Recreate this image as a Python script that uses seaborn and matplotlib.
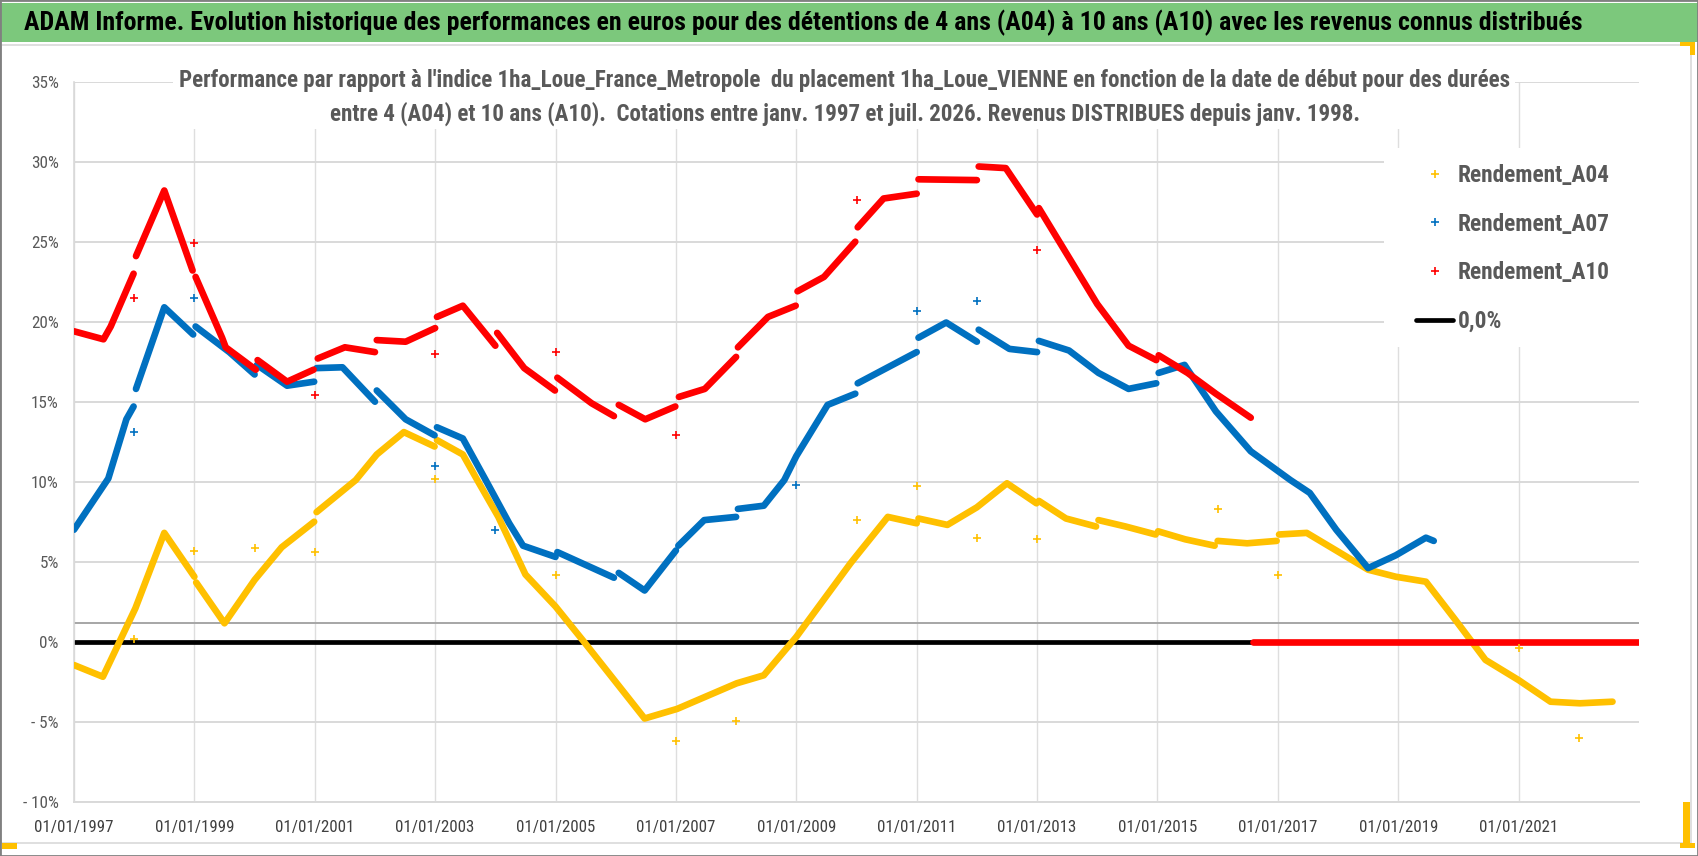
import numpy as np
import pandas as pd
import matplotlib
matplotlib.use('Agg')
import matplotlib.pyplot as plt
import seaborn as sns
from matplotlib import font_manager as fm
from matplotlib.patches import Rectangle
from matplotlib.lines import Line2D
from matplotlib.ticker import FuncFormatter

nan = np.nan

# dates de début en années décimales, rendements en %, nan = rupture de la série
A04_DATES = [1997.0, 1997.48, 1998.02, 1998.5, 1999.0, nan,
             1999.03, 1999.5, 2000.0, 2000.45, 2000.99, nan,
             2001.03, 2001.68, 2002.03, 2002.48, 2002.99, nan,
             2003.03, 2003.46, 2003.7, 2004.05, 2004.5, 2005.0, 2005.45, 2006.48, 2007.02,
             2008.01, 2008.46, 2009.0, 2009.45, 2009.9, 2010.07, 2010.52, 2011.0, nan,
             2011.03, 2011.51, 2012.0, 2012.5, 2012.99, nan,
             2013.03, 2013.48, 2013.98, nan,
             2014.02, 2014.47, 2014.97, nan,
             2015.01, 2015.46, 2015.95, nan,
             2016.0, 2016.49, 2016.98, nan,
             2017.02, 2017.48, 2017.97, 2018.5, 2018.96, 2019.46, 2019.95, 2020.45, 2021.0,
             2021.53, 2022.02, 2022.56]
A04_VALS = [-1.46, -2.19, 2.09, 6.8, 4.06, nan,
            3.7, 1.15, 3.86, 5.9, 7.5, nan,
            8.1, 10.1, 11.7, 13.1, 12.2, nan,
            12.6, 11.7, 10.1, 7.8, 4.2, 2.2, 0.1, -4.8, -4.2,
            -2.6, -2.1, 0.3, 2.6, 4.9, 5.7, 7.8, 7.4, nan,
            7.7, 7.3, 8.4, 9.9, 8.65, nan,
            8.8, 7.7, 7.2, nan,
            7.6, 7.2, 6.7, nan,
            6.9, 6.4, 6.0, nan,
            6.3, 6.15, 6.3, nan,
            6.7, 6.8, 5.7, 4.5, 4.06, 3.75, 1.36, -1.14, -2.4,
            -3.75, -3.85, -3.75]

A07_DATES = [1997.0, 1997.57, 1997.87, 1997.99, nan,
             1998.03, 1998.5, 1998.98, nan,
             1999.02, 1999.58, 2000.0, nan,
             2000.04, 2000.54, 2000.99, nan,
             2001.03, 2001.46, 2002.0, nan,
             2002.03, 2002.51, 2002.99, nan,
             2003.03, 2003.46, 2003.84, 2004.23, 2004.46, 2005.0, nan,
             2005.03, 2005.97, nan,
             2006.05, 2006.48, 2007.0, nan,
             2007.04, 2007.47, 2008.0, nan,
             2008.03, 2008.46, 2008.8, 2009.0, 2009.52, 2009.98, nan,
             2010.02, 2011.0, nan,
             2011.03, 2011.49, 2012.0, nan,
             2012.03, 2012.54, 2013.0, nan,
             2013.03, 2013.53, 2014.02, 2014.52, 2014.98, nan,
             2015.02, 2015.45, 2015.97, 2016.55, 2017.21, 2017.53, 2017.97, 2018.5,
             2018.96, 2019.46, 2019.59]
A07_VALS = [7.0, 10.2, 13.9, 14.7, nan,
            15.8, 20.9, 19.2, nan,
            19.7, 18.1, 16.7, nan,
            17.3, 16.0, 16.25, nan,
            17.1, 17.15, 15.0, nan,
            15.7, 13.9, 12.9, nan,
            13.4, 12.7, 10.1, 7.4, 6.0, 5.3, nan,
            5.6, 4.0, nan,
            4.3, 3.2, 5.7, nan,
            6.0, 7.6, 7.8, nan,
            8.3, 8.5, 10.1, 11.6, 14.8, 15.5, nan,
            16.15, 18.1, nan,
            19.0, 19.95, 18.75, nan,
            19.5, 18.3, 18.1, nan,
            18.8, 18.2, 16.8, 15.8, 16.15, nan,
            16.8, 17.3, 14.4, 11.9, 10.1, 9.3, 7.0, 4.6,
            5.4, 6.5, 6.3]

A10_DATES = [1997.0, 1997.49, 1997.61, 1997.99, nan,
             1998.03, 1998.5, 1998.97, nan,
             1999.02, 1999.46, 1999.52, 2000.02, nan,
             2000.05, 2000.54, 2000.98, nan,
             2001.05, 2001.5, 2002.0, nan,
             2002.03, 2002.51, 2003.0, nan,
             2003.03, 2003.46, 2004.0, nan,
             2004.03, 2004.48, 2004.99, nan,
             2005.03, 2005.6, 2005.97, nan,
             2006.05, 2006.49, 2006.99, nan,
             2007.05, 2007.48, 2008.0, nan,
             2008.03, 2008.53, 2008.99, nan,
             2009.02, 2009.46, 2009.98, nan,
             2010.02, 2010.45, 2011.0, nan,
             2011.03, 2012.0, nan,
             2012.03, 2012.48, 2013.0, nan,
             2013.03, 2014.0, 2014.52, 2014.98, nan,
             2015.02, 2015.5, 2015.97, 2016.55, nan,
             2016.58, 2023.0]
A10_VALS = [19.4, 18.9, 19.7, 23.0, nan,
            24.1, 28.2, 23.2, nan,
            22.8, 19.0, 18.4, 17.0, nan,
            17.6, 16.25, 17.0, nan,
            17.7, 18.4, 18.1, nan,
            18.85, 18.75, 19.6, nan,
            20.3, 21.0, 18.5, nan,
            19.3, 17.1, 15.7, nan,
            16.5, 14.9, 14.1, nan,
            14.8, 13.9, 14.7, nan,
            15.3, 15.8, 17.8, nan,
            18.4, 20.3, 21.0, nan,
            21.9, 22.8, 25.0, nan,
            25.9, 27.7, 28.0, nan,
            28.9, 28.85, nan,
            29.7, 29.6, 26.7, nan,
            27.1, 21.1, 18.5, 17.6, nan,
            17.9, 16.8, 15.5, 14.0, nan,
            0.0, 0.0]

# points isolés (cotations du 1er janvier)
A04_OUT_DATES = [1998.0, 1999.0, 2000.0, 2001.0, 2003.0, 2005.0, 2007.0, 2008.0,
                 2010.0, 2011.0, 2012.0, 2013.0, 2016.0, 2017.0, 2021.0, 2022.0]
A04_OUT_VALS = [0.2, 5.7, 5.85, 5.6, 10.2, 4.2, -6.2, -4.95,
                7.6, 9.75, 6.5, 6.4, 8.3, 4.2, -0.4, -6.0]
A07_OUT_DATES = [1998.0, 1999.0, 2003.0, 2004.0, 2009.0, 2011.0, 2012.0]
A07_OUT_VALS = [13.1, 21.5, 11.0, 7.0, 9.8, 20.7, 21.3]
A10_OUT_DATES = [1998.0, 1999.0, 2001.0, 2003.0, 2005.0, 2007.0, 2010.0, 2013.0]
A10_OUT_VALS = [21.5, 24.9, 15.4, 18.0, 18.1, 12.9, 27.6, 24.5]

SERIES = ['Rendement_A04', 'Rendement_A07', 'Rendement_A10']
COLORS = {'Rendement_A04': '#FFC000', 'Rendement_A07': '#0070C0', 'Rendement_A10': '#FF0000'}
ZERO_LABEL = '0,0%'
GREY_LINE = 1.2
X_TICKS = list(range(1997, 2022, 2))
Y_TICKS = list(range(-10, 36, 5))

TITLE = ("ADAM Informe. Evolution historique des performances en euros pour des détentions "
         "de 4 ans (A04) à 10 ans (A10) avec les revenus connus distribués")
SUB1 = ("Performance par rapport à l'indice 1ha_Loue_France_Metropole  du placement "
        "1ha_Loue_VIENNE en fonction de la date de début pour des durées")
SUB2 = ("entre 4 (A04) et 10 ans (A10).  Cotations entre janv. 1997 et juil. 2026. "
        "Revenus DISTRIBUES depuis janv. 1998.")


def to_frame(dates, vals, name):
    d = pd.DataFrame({'date': dates, 'val': vals})
    d['seg'] = d['date'].isna().cumsum()
    d = d.dropna()
    d['serie'] = name
    d['seg'] = name + '_' + d['seg'].astype(str)
    return d


df = pd.concat([to_frame(A04_DATES, A04_VALS, SERIES[0]),
                to_frame(A07_DATES, A07_VALS, SERIES[1]),
                to_frame(A10_DATES, A10_VALS, SERIES[2])], ignore_index=True)
outliers = [(A04_OUT_DATES, A04_OUT_VALS, SERIES[0]),
            (A07_OUT_DATES, A07_OUT_VALS, SERIES[1]),
            (A10_OUT_DATES, A10_OUT_VALS, SERIES[2])]

sns.set_style('white')

# police étroite si disponible (le modèle est en Calibri tassé)
names = {f.name for f in fm.fontManager.ttflist}
font = 'Liberation Sans'
stretch = 'normal'
for cand in ['Liberation Sans Narrow', 'Arial Narrow', 'Roboto Condensed', 'Open Sans Condensed']:
    if cand in names:
        font = cand
        break
else:
    if any(f.name == 'DejaVu Sans' and f.stretch == 'condensed' for f in fm.fontManager.ttflist):
        font, stretch = 'DejaVu Sans', 'condensed'
plt.rcParams['font.family'] = [font, 'DejaVu Sans']
plt.rcParams['font.stretch'] = stretch
plt.rcParams['axes.unicode_minus'] = False

W, H = 1698, 856
fig = plt.figure(figsize=(W / 100, H / 100), dpi=100)
renderer = fig.canvas.get_renderer()


def fx(px):
    return px / W


def fy(py):
    return 1 - py / H


def size_for(s, target, weight='normal', base=20.0):
    # taille de police donnant la largeur voulue (en pixels)
    t = fig.text(0, 0, s, fontsize=base, fontweight=weight)
    w = t.get_window_extent(renderer=renderer).width
    t.remove()
    return base * target / w


fs_title = size_for(TITLE, 1552, 'bold')
fs_sub = size_for(SUB1, 1331, 'bold')
fs_leg = size_for('Rendement_A04', 151, 'bold')
fs_x = size_for('01/01/1997', 79)
fs_y = size_for('- 10%', 36)

ax = fig.add_axes([fx(74), fy(801.7), fx(1639) - fx(74), fy(81.7) - fy(801.7)])

# lignes de référence
ax.axhline(0, color='black', lw=3.4, zorder=1.5)
ax.axhline(GREY_LINE, color='#a6a6a6', lw=1.4, zorder=1.4)

sns.lineplot(data=df, x='date', y='val', hue='serie', units='seg', estimator=None,
             palette=COLORS, lw=4.8, legend=False, sort=False, ax=ax, zorder=3)
for dates, vals, name in outliers:
    sns.scatterplot(x=dates, y=vals, marker='+', s=30, linewidth=1.2,
                    color=COLORS[name], ax=ax, zorder=3, legend=False)

ax.set_xlim(1997, 2023.0)
ax.set_ylim(-10, 35)
ax.set_xticks(X_TICKS)
ax.set_yticks(Y_TICKS)
ax.xaxis.set_major_formatter(FuncFormatter(lambda v, _: '01/01/%d' % round(v)))
ax.yaxis.set_major_formatter(FuncFormatter(
    lambda v, _: ('- %d%%' % abs(round(v))) if v < 0 else '%d%%' % round(v)))
ax.tick_params(axis='x', length=0, pad=13, labelsize=fs_x, labelcolor='#404040')
ax.tick_params(axis='y', length=0, pad=11, labelsize=fs_y, labelcolor='#595959')
ax.set_xlabel('')
ax.set_ylabel('')
ax.grid(axis='y', color='#d9d9d9', lw=1.4)
ax.grid(axis='x', color='#dedede', lw=1.0)
ax.set_axisbelow(True)
for s in ['top', 'right']:
    ax.spines[s].set_visible(False)
ax.spines['left'].set_color('#d9d9d9')
ax.spines['bottom'].set_color('#d9d9d9')
ax.spines['left'].set_linewidth(1.2)
ax.spines['bottom'].set_linewidth(1.4)


def box(x0, y0, x1, y1, **kw):
    fig.add_artist(Rectangle((fx(x0), fy(y1)), fx(x1) - fx(x0), fy(y0) - fy(y1),
                             transform=fig.transFigure, **kw))


# cadre, bandeau et poignées
box(1, 45, 1691, 843, facecolor='none', edgecolor='#d9d9d9', lw=1.2, zorder=0.5)
box(0, 3, W, 42, facecolor='#7cc87c', edgecolor='none', zorder=1)
box(173, 64, 1515, 129, facecolor='white', edgecolor='none', zorder=1)
box(1384, 148, 1662, 347, facecolor='white', edgecolor='none', zorder=1)
for r in [(2, 843, 17, 849), (1683, 802, 1690, 848), (1680, 843, 1695, 848),
          (1680, 42, 1695, 46), (1690, 42, 1695, 55)]:
    box(*r, facecolor='#FFC000', edgecolor='none', zorder=2)
box(0, 0, W, H, facecolor='none', edgecolor='#808080', lw=2, zorder=2)

fig.text(fx(24), fy(23), TITLE, ha='left', va='center', fontsize=fs_title,
         fontweight='bold', color='black')
fig.text(fx(845), fy(80), SUB1, ha='center', va='center', fontsize=fs_sub,
         fontweight='bold', color='#595959', zorder=3)
fig.text(fx(845), fy(114), SUB2, ha='center', va='center', fontsize=fs_sub,
         fontweight='bold', color='#595959', zorder=3)

handles = [Line2D([], [], ls='none', marker='+', ms=6, mew=1.2, color=COLORS[n]) for n in SERIES]
handles.append(Line2D([], [], color='black', lw=3.4))
leg = fig.legend(handles, SERIES + [ZERO_LABEL], loc='upper left',
                 bbox_to_anchor=(fx(1416), fy(164)), frameon=False, borderpad=0,
                 borderaxespad=0, handlelength=37 / (fs_leg * 100 / 72),
                 handletextpad=0.2, labelspacing=1.1, fontsize=fs_leg, labelcolor='#595959')
for t in leg.get_texts():
    t.set_fontweight('bold')
leg.set_zorder(4)

plt.savefig('out.png', dpi=100)
